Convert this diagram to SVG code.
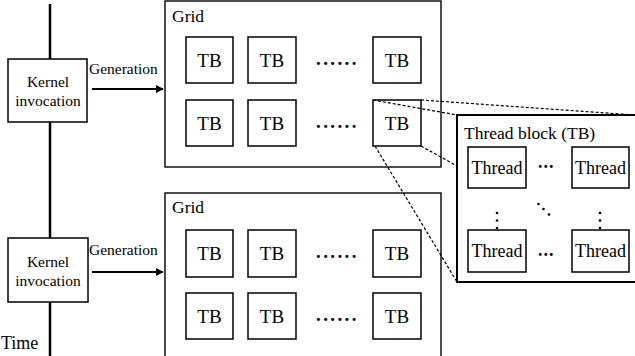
<svg xmlns="http://www.w3.org/2000/svg" width="635" height="356" viewBox="0 0 635 356" font-family="'Liberation Serif', 'Times New Roman', 'DejaVu Serif', serif">
  <style>
    .t { font-family: 'Liberation Serif', 'Times New Roman', 'DejaVu Serif', serif; fill: #000; }
    .box { fill: #fff; stroke: #000; stroke-width: 1.5; }
    .grid { fill: #fff; stroke: #000; stroke-width: 1.4; }
    .block { fill: #fff; stroke: #000; stroke-width: 2; }
    .k { font-size: 15.5px; text-anchor: middle; }
    .gen { font-size: 15.5px; }
    .lbl { font-size: 17.5px; }
    .tb { font-size: 19px; text-anchor: middle; }
    .th { font-size: 18px; text-anchor: middle; }
    .dots { font-size: 19px; letter-spacing: 2.4px; font-weight: bold; }
    .tdots { font-size: 18px; letter-spacing: 1px; font-weight: bold; }
    .time { stroke: #000; stroke-width: 2.5; }
    .arrow { stroke: #000; stroke-width: 2; fill: none; marker-end: url(#head); }
    .zoom { stroke: #000; stroke-width: 1.2; fill: none; stroke-dasharray: 3 2; }
  </style>
  <defs>
    <marker id="head" viewBox="0 0 10 10" refX="9" refY="5" markerWidth="4" markerHeight="4" orient="auto" markerUnits="strokeWidth">
      <path d="M0,0 L10,5 L0,10 z" fill="#000"/>
    </marker>
  </defs>

  <!-- time axis -->
  <g id="timeline">
    <line class="time" x1="50" y1="4" x2="50" y2="356"/>
    <text class="t" x="1" y="349" style="font-size:18px">Time</text>
  </g>

  <!-- kernel invocations -->
  <g id="kernel1">
    <rect class="box" x="8" y="59" width="79" height="63"/>
    <text class="t k" x="48" y="87">Kernel</text>
    <text class="t k" x="48" y="106">invocation</text>
  </g>
  <g id="kernel2">
    <rect class="box" x="8" y="238" width="80" height="64"/>
    <text class="t k" x="48" y="267">Kernel</text>
    <text class="t k" x="48" y="286">invocation</text>
  </g>

  <!-- connectors -->
  <g id="connectors">
    <text class="t gen" x="89" y="74">Generation</text>
    <line class="arrow" x1="92" y1="89" x2="163" y2="89"/>
    <text class="t gen" x="89" y="255">Generation</text>
    <line class="arrow" x1="92" y1="272" x2="163" y2="272"/>
  </g>

  <!-- grid 1 -->
  <g id="grid1">
    <rect class="grid" x="165" y="1" width="276" height="166"/>
    <text class="t lbl" x="172" y="22">Grid</text>
    <rect class="box" x="186" y="37" width="47" height="46"/>
    <text class="t tb" x="209.5" y="67">TB</text>
    <rect class="box" x="248" y="37" width="48" height="46"/>
    <text class="t tb" x="272" y="67">TB</text>
    <text class="t dots" x="316" y="65">......</text>
    <rect class="box" x="373" y="37" width="48" height="46"/>
    <text class="t tb" x="397" y="67">TB</text>
    <rect class="box" x="186" y="100" width="47" height="46"/>
    <text class="t tb" x="209.5" y="130">TB</text>
    <rect class="box" x="248" y="100" width="48" height="46"/>
    <text class="t tb" x="272" y="130">TB</text>
    <text class="t dots" x="316" y="128">......</text>
    <rect class="box" x="373" y="100" width="48" height="46"/>
    <text class="t tb" x="397" y="130">TB</text>
  </g>

  <!-- grid 2 -->
  <g id="grid2">
    <rect class="grid" x="165" y="193" width="276" height="175"/>
    <text class="t lbl" x="172" y="213">Grid</text>
    <rect class="box" x="186" y="230" width="47" height="47"/>
    <text class="t tb" x="209.5" y="260">TB</text>
    <rect class="box" x="248" y="230" width="48" height="47"/>
    <text class="t tb" x="272" y="260">TB</text>
    <text class="t dots" x="316" y="258">......</text>
    <rect class="box" x="373" y="230" width="48" height="47"/>
    <text class="t tb" x="397" y="260">TB</text>
    <rect class="box" x="186" y="293" width="47" height="46"/>
    <text class="t tb" x="209.5" y="323">TB</text>
    <rect class="box" x="248" y="293" width="48" height="46"/>
    <text class="t tb" x="272" y="323">TB</text>
    <text class="t dots" x="316" y="321">......</text>
    <rect class="box" x="373" y="293" width="48" height="46"/>
    <text class="t tb" x="397" y="323">TB</text>
  </g>

  <!-- zoom lines from the selected TB to the thread block -->
  <g id="zoom-lines">
    <line class="zoom" x1="373" y1="100" x2="457" y2="115"/>
    <line class="zoom" x1="421" y1="100" x2="635" y2="115"/>
    <line class="zoom" x1="421" y1="146" x2="457" y2="166"/>
    <line class="zoom" x1="375" y1="146" x2="457" y2="282" stroke-dasharray="2 1.5"/>
  </g>

  <!-- thread block detail -->
  <g id="thread-block">
    <rect class="block" x="457" y="115" width="190" height="167"/>
    <text class="t lbl" x="464" y="139">Thread block (TB)</text>
    <rect class="box" x="468" y="147" width="58" height="41"/>
    <text class="t th" x="497" y="174">Thread</text>
    <rect class="box" x="572" y="147" width="57" height="41"/>
    <text class="t th" x="600.5" y="174">Thread</text>
    <rect class="box" x="468" y="230" width="58" height="42"/>
    <text class="t th" x="497" y="257">Thread</text>
    <rect class="box" x="572" y="230" width="57" height="42"/>
    <text class="t th" x="600.5" y="257">Thread</text>
    <text class="t tdots" x="538" y="168">...</text>
    <text class="t tdots" x="538" y="256">...</text>
    <g fill="#000">
      <circle cx="497" cy="213" r="1.3"/>
      <circle cx="497" cy="220.5" r="1.3"/>
      <circle cx="497" cy="228" r="1.3"/>
      <circle cx="600" cy="213" r="1.3"/>
      <circle cx="600" cy="220.5" r="1.3"/>
      <circle cx="600" cy="228" r="1.3"/>
      <circle cx="538.5" cy="204" r="1.3"/>
      <circle cx="543.5" cy="209" r="1.3"/>
      <circle cx="549" cy="214.5" r="1.3"/>
    </g>
  </g>
</svg>
